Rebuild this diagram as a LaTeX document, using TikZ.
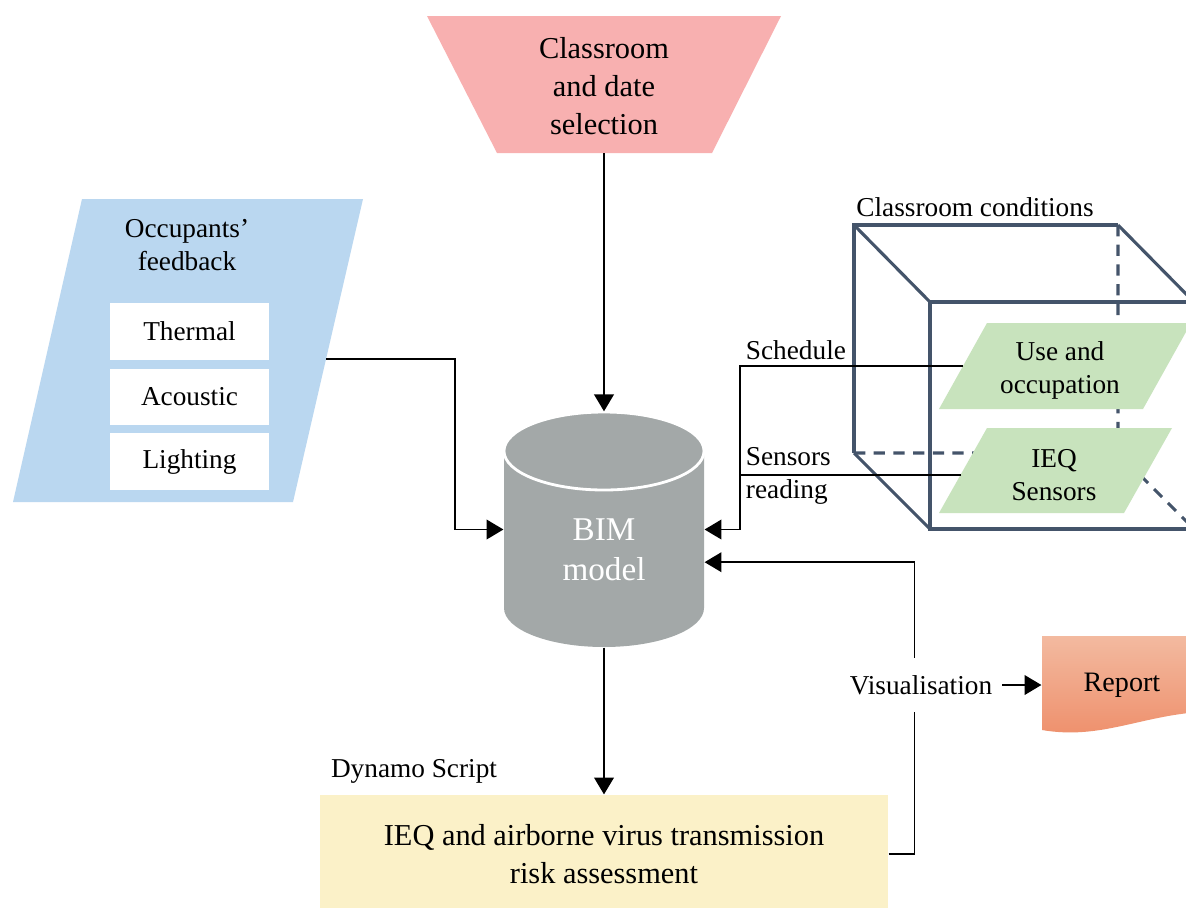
\documentclass[tikz,border=0pt]{standalone}
\usepackage{fontspec}
\setmainfont{Liberation Serif}
\usetikzlibrary{arrows.meta}

\definecolor{selpink}{RGB}{248,176,176}
\definecolor{occblue}{RGB}{186,215,240}
\definecolor{bimgray}{RGB}{163,168,168}
\definecolor{usegreen}{RGB}{200,227,189}
\definecolor{dynyellow}{RGB}{251,241,200}
\definecolor{roomline}{RGB}{68,84,106}
\definecolor{reptop}{RGB}{243,186,160}
\definecolor{repbot}{RGB}{238,142,106}

\begin{document}
\begin{tikzpicture}[x=0.0125cm, y=-0.0125cm,
    font=\fontsize{9.7}{12}\selectfont,
    wire/.style={draw=black, line width=0.6pt},
    arr/.style={wire, -{Triangle[length=6pt,width=7pt]}},
    room/.style={draw=roomline, line width=1.1pt},
    roomdash/.style={room, dash pattern=on 4pt off 3pt},
    wbox/.style={fill=white, minimum width=1.99cm, minimum height=0.71cm, inner sep=0pt},
    bigtxt/.style={font=\fontsize{10.8}{13.5}\selectfont, align=center},
    tighttxt/.style={font=\fontsize{9.7}{11.7}\selectfont, align=center}]
  \useasboundingbox (0,0) rectangle (1186,907);
  \clip (0,0) rectangle (1186,907);
  \fill[white] (0,0) rectangle (1186,907);

  % classroom and date selection
  \fill[selpink] (427,16) -- (781,16) -- (712,153) -- (497,153) -- cycle;
  \node[bigtxt] (Sel) at (604,86) {Classroom\\and date\\selection};
  \coordinate (SelB) at (604,153);

  % occupants' feedback
  \fill[occblue] (82,199) -- (363,199) -- (293,502) -- (13,502) -- cycle;
  \node[tighttxt] (Occ) at (187,245) {Occupants'\\feedback};
  \node[wbox] (Th) at (189.5,331.5) {Thermal};
  \node[wbox] (Ac) at (189.5,397) {Acoustic};
  \node[wbox] (Li) at (189.5,461.5) {Lighting};
  \coordinate (OccR) at (326,359);

  % BIM model
  \fill[bimgray] (504,451) -- (504,608)
    arc[start angle=180, end angle=0, x radius=100, y radius=39] -- (704,451)
    arc[start angle=0, end angle=-180, x radius=100, y radius=39] -- cycle;
  \draw[white, line width=1pt] (604,451) ellipse [x radius=100, y radius=39];
  \node[minimum width=2.5cm, minimum height=2.94cm, inner sep=0pt] (Bim) at (604,529.5) {};
  \node[white, align=center, font=\fontsize{11.8}{14.2}\selectfont] (BimTxt) at (604,550) {BIM\\model};

  % classroom conditions
  \draw[room] (930,302) rectangle (1194,529);
  \draw[room] (854,453) -- (854,225) -- (1118,225);
  \draw[room] (854,225) -- (930,302) (1118,225) -- (1194,302) (854,453) -- (930,529);
  \draw[roomdash] (1118,225) -- (1118,453) (854,453) -- (1118,453) -- (1194,529);
  \node (RoomLbl) at (975,207) {Classroom conditions};

  \fill[usegreen] (987,323) -- (1191,323) -- (1143,409) -- (939,409) -- cycle;
  \node[tighttxt] (Use) at (1060,370) {Use and\\occupation};
  \coordinate (UseL) at (963,366);
  \fill[usegreen] (987,428) -- (1172,428) -- (1124,513) -- (939,513) -- cycle;
  \node[tighttxt] (Ieq) at (1054,475) {IEQ\\Sensors};
  \coordinate (IeqL) at (961,475);

  % dynamo script
  \node[fill=dynyellow, minimum width=7.1cm, minimum height=1.475cm, inner sep=0pt, bigtxt] (Dyn) at (604,854)
    {IEQ and airborne virus transmission\\risk assessment};
  \node (DynLbl) at (414,771) {Dynamo Script};

  % report
  \shade[top color=reptop, bottom color=repbot] (1042,636) -- (1200,636) -- (1200,712)
    .. controls (1140,716) and (1100,740) .. (1042,730) -- cycle;
  \node[font=\fontsize{10}{12}\selectfont, minimum width=2cm, inner sep=0pt] (Rep) at (1122,685) {Report};

  % connectors
  \draw[arr] (SelB) -- (Bim.north);
  \draw[arr] (OccR) -- ++(129,0) |- (Bim.west);
  \draw[arr] (UseL) -- ++(-223,0) |- (Bim.east);
  \draw[wire] (IeqL) -- ++(-221,0);
  \node[anchor=west] (SchLbl) at (736,350) {Schedule};
  \node[anchor=west, align=left] (SenLbl) at (736,476) {Sensors\\reading};
  \draw[arr] (Bim.south) -- (Dyn.north);
  \draw[arr] (Dyn.east) -- ++(26,0) |- (Bim.-18);
  \node[fill=white, inner ysep=6pt] (Vis) at (921,685) {Visualisation};
  \draw[arr] (Vis) -- (Rep);
\end{tikzpicture}
\end{document}
